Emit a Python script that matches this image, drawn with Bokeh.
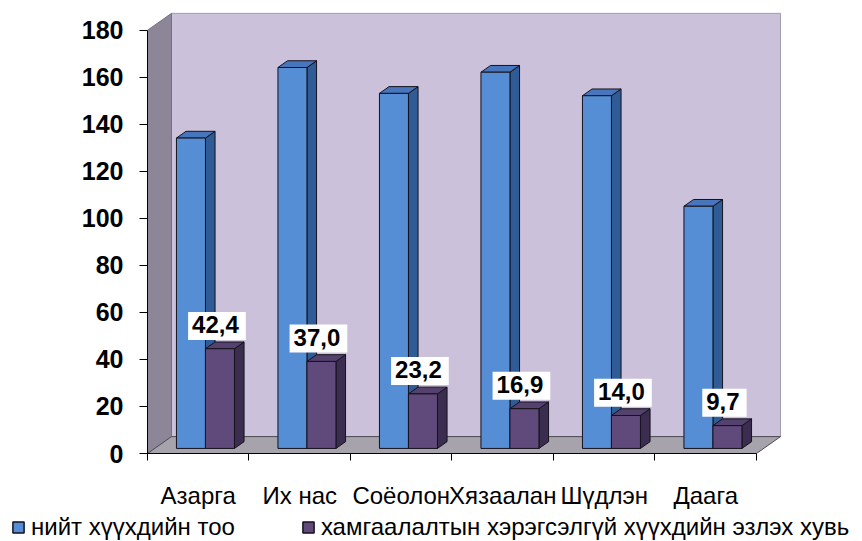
from bokeh.plotting import figure
from bokeh.models import Range1d, FixedTicker, Legend, LegendItem
from bokeh.layouts import column
from bokeh.embed import file_html
from bokeh.resources import INLINE
from bokeh.core.properties import value

# ---------------- data ----------------
categories = ["Азарга", "Их нас", "Соёолон", "Хязаалан", "Шүдлэн", "Даага"]
total_children = [132, 162, 151, 160, 150, 103]
pct_without = [42.4, 37.0, 23.2, 16.9, 14.0, 9.7]
y_ticks = [0, 20, 40, 60, 80, 100, 120, 140, 160, 180]
series_names = ["нийт хүүхдийн тоо", "хамгаалалтын хэрэгсэлгүй хүүхдийн эзлэх хувь"]

# ---------------- layout / style ----------------
FONT = "Liberation Sans"
W, H = 862, 511
LEG_H = 30
LEFT, RIGHT, TOP, BOTTOM = 147, 72, 10, 55
FW, FH = W - LEFT - RIGHT, H - TOP - BOTTOM
n = len(categories)
X_END = 6.335
Y_MAX = 180
Y_END = 188.4
xpx = FW / X_END
ypx = FH / Y_END
DX = 24 / xpx          # depth offset in data units
DY = 17 / ypx
F1, F2 = 0.3, 0.7      # bar front / back depth fraction
BW = 1 / 3.5           # bar width (gap width 150%)

p = figure(width=W, height=H, x_range=Range1d(0, X_END), y_range=Range1d(0, Y_END),
           output_backend="svg", toolbar_location=None,
           min_border_left=LEFT, min_border_right=RIGHT,
           min_border_top=TOP, min_border_bottom=BOTTOM)
p.frame_align = False
p.xgrid.visible = False
p.ygrid.visible = False
p.outline_line_color = None
p.background_fill_color = "white"
p.border_fill_color = "white"

# walls and floor
p.quad(left=DX, right=n + DX, bottom=DY, top=Y_MAX + DY,
       fill_color="#CCC1DB", line_color="#A29CAD", line_width=1)
p.patch([0, DX, DX, 0], [0, DY, Y_MAX + DY, Y_MAX],
        fill_color="#8D8698", line_color="#77717F", line_width=1)
p.patch([0, n, n + DX, DX], [0, 0, DY, DY],
        fill_color="#A7A3AD", line_color="#4D4A52", line_width=1)

styles = [
    dict(front="#558ED5", side="#2F5C96", top="#4776BC"),
    dict(front="#604A7B", side="#3B2D4F", top="#54416E"),
]
for s, vals in enumerate([total_children, pct_without]):
    st = styles[s]
    x0s = [i + 0.5 - BW + s * BW for i in range(n)]
    x1s = [x + BW for x in x0s]
    side_xs = [[x1 + F1 * DX, x1 + F2 * DX, x1 + F2 * DX, x1 + F1 * DX] for x1 in x1s]
    side_ys = [[F1 * DY, F2 * DY, v + F2 * DY, v + F1 * DY] for v in vals]
    p.patches(side_xs, side_ys, fill_color=st["side"], line_color="#15121C", line_width=1)
    top_xs = [[x0 + F1 * DX, x1 + F1 * DX, x1 + F2 * DX, x0 + F2 * DX] for x0, x1 in zip(x0s, x1s)]
    top_ys = [[v + F1 * DY, v + F1 * DY, v + F2 * DY, v + F2 * DY] for v in vals]
    p.patches(top_xs, top_ys, fill_color=st["top"], line_color="#15121C", line_width=1)
    p.quad(left=[x + F1 * DX for x in x0s], right=[x + F1 * DX for x in x1s],
           bottom=F1 * DY, top=[v + F1 * DY for v in vals],
           fill_color=st["front"], line_color="#15121C", line_width=1)

# data labels for the percentage series
lab_x = [i + 0.5 + BW / 2 + F1 * DX - 3 / xpx for i in range(n)]
lab_y = [v + F1 * DY + 23 / ypx for v in pct_without]
lab_t = [f"{v:.1f}".replace(".", ",") for v in pct_without]
p.text(x=lab_x, y=lab_y, text=lab_t, text_font=value(FONT), text_font_style="bold",
       text_font_size="24px", text_align="center", text_baseline="middle",
       text_color="black", background_fill_color="white", padding=(4, 7, 4, 7))

# y axis
ya = p.yaxis[0]
ya.ticker = FixedTicker(ticks=y_ticks, minor_ticks=[])
ya.bounds = (0, Y_MAX)
ya.axis_line_color = "black"
ya.major_tick_out = 8
ya.major_tick_in = 0
ya.major_tick_line_color = "black"
ya.minor_tick_line_color = None
ya.major_label_standoff = 16
ya.major_label_text_font = FONT
ya.major_label_text_font_style = "bold"
ya.major_label_text_font_size = "25px"
ya.major_label_text_color = "black"

# x axis
xa = p.xaxis[0]
xa.ticker = FixedTicker(ticks=[i + 0.5 for i in range(n)], minor_ticks=list(range(n + 1)))
xa.bounds = (0, n)
xa.axis_line_color = "black"
xa.major_tick_out = 0
xa.major_tick_in = 0
xa.minor_tick_out = 7
xa.minor_tick_in = 0
xa.minor_tick_line_color = "black"
xa.major_label_overrides = {i + 0.5: c for i, c in enumerate(categories)}
xa.major_label_standoff = 21
xa.major_label_text_font = FONT
xa.major_label_text_font_size = "24px"
xa.major_label_text_color = "black"

# legend strip below the chart
pl = figure(width=W, height=LEG_H, x_range=Range1d(0, W), y_range=Range1d(0, LEG_H),
            output_backend="svg", toolbar_location=None,
            x_axis_location=None, y_axis_location=None,
            min_border=0, min_border_left=0, min_border_right=0,
            min_border_top=0, min_border_bottom=0)
pl.frame_align = False
pl.grid.visible = False
pl.outline_line_color = None
# legend swatches only: one hidden mark each, placed outside the visible range
leg_r = [pl.quad(left=[-20], right=[-10], bottom=[-20], top=[-10], fill_color=st["front"],
                 line_color="#15121C", line_width=1.5) for st in styles]
legend = Legend(items=[LegendItem(label=series_names[0], renderers=[leg_r[0]]),
                       LegendItem(label=series_names[1], renderers=[leg_r[1]])],
                orientation="horizontal", location=(11, 0), padding=0, margin=0,
                spacing=66, glyph_width=14, glyph_height=14, label_standoff=6,
                label_text_font=FONT, label_text_font_size="24px", label_text_color="black",
                background_fill_alpha=0, border_line_alpha=0)
pl.add_layout(legend, "center")

layout = column(p, pl, spacing=0)
open("out.html", "w").write(file_html(layout, INLINE))
